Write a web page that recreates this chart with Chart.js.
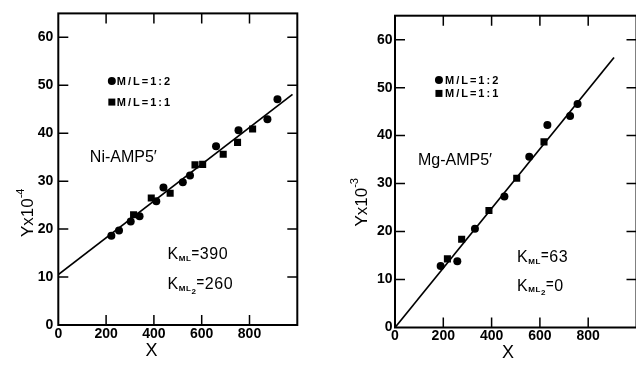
<!DOCTYPE html>
<html>
<head>
<meta charset="utf-8">
<script src="https://cdn.jsdelivr.net/npm/chart.js@4.4.0/dist/chart.umd.min.js"></script>
<style>
  html, body { margin: 0; padding: 0; background: #fff; overflow: hidden; width: 636px; height: 368px; }
  #c1 { position: absolute; left: 0; top: 0; }
  #c2 { position: absolute; left: 318px; top: 0; }
</style>
</head>
<body>
<canvas id="c1" width="318" height="368"></canvas>
<canvas id="c2" width="330" height="368"></canvas>
<script>
// ---- Ni-AMP5' (Y x 10^-4) ----
const niX12 = [222, 254, 303, 340, 410, 440, 521, 551, 660, 754, 875, 917];
const niY12 = [18.6, 19.7, 21.6, 22.7, 25.8, 28.7, 29.8, 31.2, 37.3, 40.6, 42.9, 47.1];
const niX11 = [315, 389, 468, 572, 604, 690, 750, 813];
const niY11 = [23.0, 26.5, 27.5, 33.4, 33.5, 35.6, 38.1, 40.9];
const niFitX = [0, 980];
const niFitY = [10.5, 48.1];

// ---- Mg-AMP5' (Y x 10^-3) ----
const mgX12 = [189, 258, 331, 453, 556, 631, 725, 756];
const mgY12 = [12.8, 13.8, 20.6, 27.3, 35.6, 42.2, 44.1, 46.6];
const mgX11 = [217, 276, 389, 504, 617];
const mgY11 = [14.3, 18.4, 24.4, 31.1, 38.7];
const mgFitX = [0, 907];
const mgFitY = [0, 56.3];

const xTicks = [0, 200, 400, 600, 800];
const yTicks = [0, 10, 20, 30, 40, 50, 60];
const legend12 = "M/L=1:2";
const legend11 = "M/L=1:1";

const pts = (xs, ys) => xs.map((x, i) => ({ x, y: ys[i] }));

// draw a row of text pieces: [text, font, dy]
function runs(ctx, x, y, parts, spacing) {
  ctx.letterSpacing = (spacing || 0) + "px";
  for (const [t, f, dy] of parts) {
    ctx.font = f;
    ctx.fillText(t, x, y + (dy || 0));
    x += ctx.measureText(t).width;
  }
  ctx.letterSpacing = "0px";
}

const notesPlugin = {
  id: "notes",
  afterDatasetsDraw(chart, args, o) {
    const ctx = chart.ctx;
    const a = chart.chartArea;
    const sx = chart.scales.x, sy = chart.scales.y;
    ctx.save();
    ctx.strokeStyle = "#000";
    ctx.fillStyle = "#000";

    // frame
    ctx.lineWidth = 2;
    ctx.strokeRect(a.left, a.top, a.right - a.left, a.bottom - a.top);

    // inward ticks on all sides
    ctx.lineWidth = 1.5;
    ctx.beginPath();
    xTicks.slice(1).forEach(v => {
      const px = sx.getPixelForValue(v);
      ctx.moveTo(px, a.bottom); ctx.lineTo(px, a.bottom - 10);
      ctx.moveTo(px, a.top); ctx.lineTo(px, a.top + 10);
    });
    yTicks.slice(1).forEach(v => {
      const py = sy.getPixelForValue(v);
      ctx.moveTo(a.left, py); ctx.lineTo(a.left + 10, py);
      ctx.moveTo(a.right, py); ctx.lineTo(a.right - 10, py);
    });
    ctx.stroke();

    ctx.textBaseline = "middle";
    ctx.textAlign = "left";
    const F = "Liberation Sans, Arial, sans-serif";

    // legend
    const lx = sx.getPixelForValue(o.legX);
    const l1 = sy.getPixelForValue(o.legY[0]);
    const l2 = sy.getPixelForValue(o.legY[1]);
    ctx.beginPath(); ctx.arc(lx, l1, 4, 0, Math.PI * 2); ctx.fill();
    ctx.fillRect(lx - 3.5, l2 - 3.5, 7, 7);
    const tx = sx.getPixelForValue(o.legTextX);
    runs(ctx, tx, l1 + 1, [[legend12, "bold 11px " + F]], 2);
    runs(ctx, tx, l2 + 1, [[legend11, "bold 11px " + F]], 2);

    // compound name
    runs(ctx, sx.getPixelForValue(o.nameX), sy.getPixelForValue(o.nameY), [[o.name, "16px " + F]]);

    // constants
    const kx = sx.getPixelForValue(o.kX);
    const k1 = sy.getPixelForValue(o.kY[0]);
    const k2 = sy.getPixelForValue(o.kY[1]);
    runs(ctx, kx, k1, [["K", "16px " + F], ["ML", "bold 8px " + F, 4], ["=", "bold 13px " + F, -2], [o.k1, "16px " + F]], 0.6);
    runs(ctx, kx, k2, [["K", "16px " + F], ["ML", "bold 8px " + F, 4], ["2", "bold 8px " + F, 7], ["=", "bold 13px " + F, -2], [o.k2, "16px " + F]], 0.6);

    // axis titles
    ctx.textAlign = "center";
    ctx.font = "18px " + F;
    ctx.fillText("X", sx.getPixelForValue(o.xTitleX), o.xTitleY);

    ctx.translate(o.yTitleX, sy.getPixelForValue(o.yTitleY));
    ctx.rotate(-Math.PI / 2);
    ctx.textAlign = "left";
    ctx.font = "17px " + F;
    const w1 = ctx.measureText("Yx10").width;
    ctx.font = "11px " + F;
    const w2 = ctx.measureText(o.yExp).width;
    runs(ctx, -(w1 + w2) / 2, 0, [["Yx10", "17px " + F], [o.yExp, "11px " + F, -7]]);
    ctx.restore();
  }
};

function makeChart(id, d, pad, yW, xH, tickPadY, tickPadX, notes) {
  return new Chart(document.getElementById(id), {
    type: "scatter",
    data: {
      datasets: [
        { type: "line", data: pts(d.fitX, d.fitY), borderColor: "#000", borderWidth: 1.7,
          pointRadius: 0, fill: false, tension: 0 },
        { data: pts(d.x12, d.y12), pointStyle: "circle", pointRadius: 4,
          backgroundColor: "#000", borderColor: "#000", borderWidth: 0 },
        { data: pts(d.x11, d.y11), pointStyle: "rect", pointRadius: 5,
          backgroundColor: "#000", borderColor: "#000", borderWidth: 0 }
      ]
    },
    options: {
      responsive: false,
      animation: false,
      devicePixelRatio: 1,
      layout: { padding: pad },
      plugins: { legend: { display: false }, tooltip: { enabled: false }, notes },
      scales: {
        x: {
          type: "linear", min: 0, max: 1000,
          afterBuildTicks: s => { s.ticks = xTicks.map(v => ({ value: v })); },
          afterFit: s => { s.height = xH; },
          grid: { display: false, drawTicks: false },
          border: { display: false },
          ticks: { color: "#000", padding: tickPadX, maxRotation: 0,
                   font: { family: "Liberation Sans, Arial, sans-serif", size: 14, weight: "bold" } }
        },
        y: {
          type: "linear", min: 0, max: 65,
          afterBuildTicks: s => { s.ticks = yTicks.map(v => ({ value: v })); },
          afterFit: s => { s.width = yW; },
          grid: { display: false, drawTicks: false },
          border: { display: false },
          ticks: { color: "#000", padding: tickPadY,
                   font: { family: "Liberation Sans, Arial, sans-serif", size: 14, weight: "bold" } }
        }
      }
    },
    plugins: [notesPlugin]
  });
}

makeChart("c1",
  { x12: niX12, y12: niY12, x11: niX11, y11: niY11, fitX: niFitX, fitY: niFitY },
  { left: 0, top: 13, right: 20.7, bottom: 0 }, 58.3, 43, 5, 1,
  { legX: 224, legY: [50.9, 46.5], legTextX: 245, name: "Ni-AMP5\u2032", nameX: 132, nameY: 34.9,
    kX: 457, kY: [14.6, 8.4], k1: "390", k2: "260", xTitleX: 390, xTitleY: 351,
    yTitleX: 28, yTitleY: 23.4, yExp: "-4" });

makeChart("c2",
  { x12: mgX12, y12: mgY12, x11: mgX11, y11: mgY11, fitX: mgFitX, fitY: mgFitY },
  { left: 0, top: 15.7, right: 11.5, bottom: 0 }, 77, 40.5, 2.5, 0,
  { legX: 182, legY: [51.6, 48.8], legTextX: 207, name: "Mg-AMP5\u2032", nameX: 95, nameY: 34.7,
    kX: 505, kY: [14.6, 8.6], k1: "63", k2: "0", xTitleX: 468, xTitleY: 353,
    yTitleX: 44, yTitleY: 26.1, yExp: "-3" });
</script>
</body>
</html>
